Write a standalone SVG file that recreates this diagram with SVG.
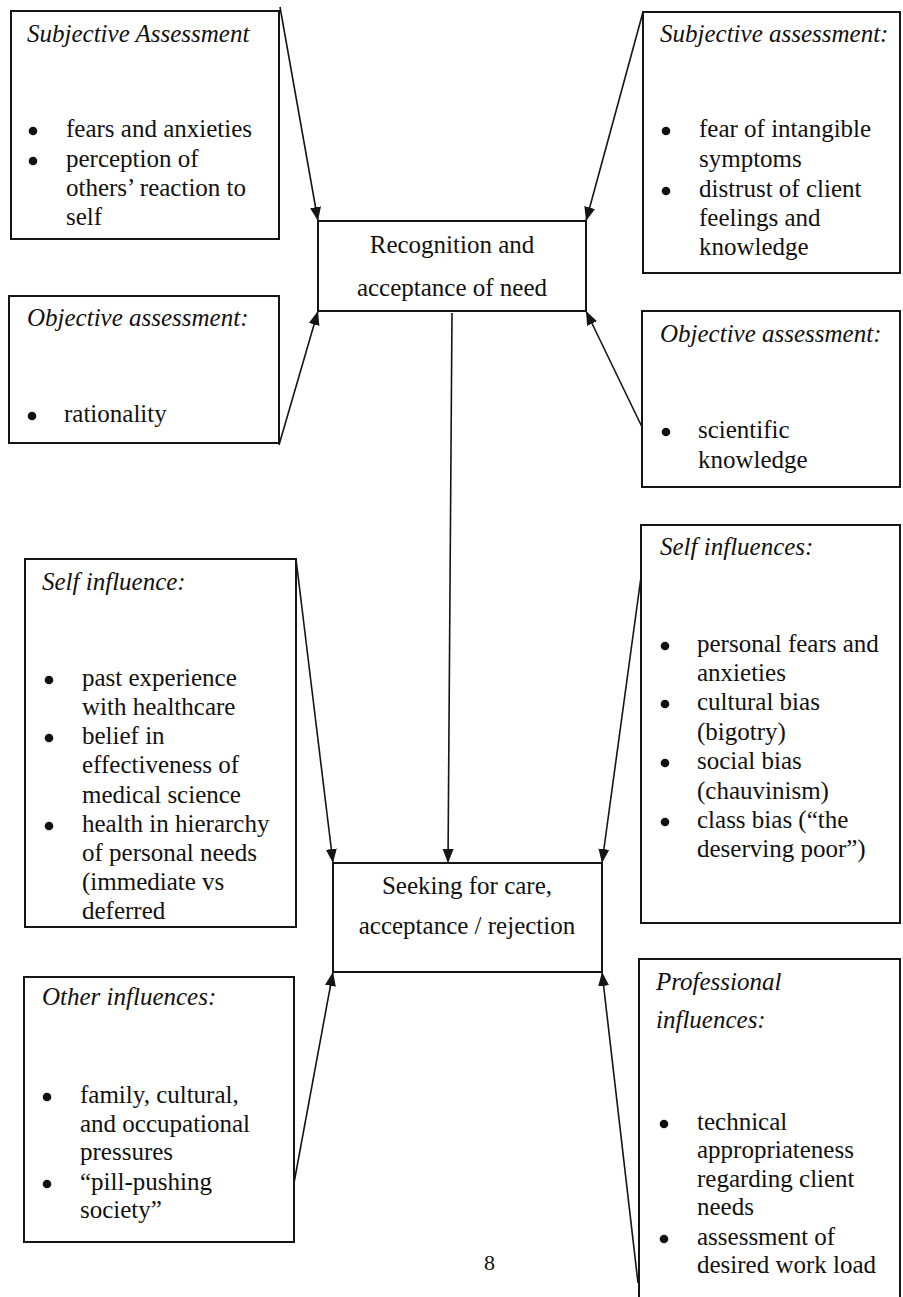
<svg xmlns="http://www.w3.org/2000/svg" width="903" height="1297" viewBox="0 0 903 1297">
<style>
.box{fill:#fff;stroke:#151515;stroke-width:2}
.t{font-family:"Liberation Serif","Times New Roman",serif;font-size:25px;fill:#111}
.i{font-style:italic}
.c{text-anchor:middle}
.b{fill:#111}
.con line{stroke:#151515;stroke-width:1.6;fill:none}
</style>
<defs>
<marker id="ah" markerUnits="userSpaceOnUse" markerWidth="14" markerHeight="14" viewBox="0 0 14 14" refX="14" refY="7" orient="auto">
<path d="M0,1.5 L14,7 L0,12.5 Z" fill="#151515"/>
</marker>
</defs>
<rect width="903" height="1297" fill="#fff"/>

<g id="recognition">
<rect class="box" x="318" y="221" width="268" height="90"/>
<text class="t c" x="452" y="253">Recognition and</text>
<text class="t c" x="452" y="296">acceptance of need</text>
</g>

<g id="seeking">
<rect class="box" x="333" y="863" width="269" height="109"/>
<text class="t c" x="467" y="894">Seeking for care,</text>
<text class="t c" x="467" y="934">acceptance / rejection</text>
</g>

<g id="subjective-left">
<rect class="box" x="11" y="11" width="268" height="228"/>
<text class="t i" x="27" y="42">Subjective Assessment</text>
<circle class="b" cx="33" cy="131" r="4.3"/><text class="t" x="66" y="137">fears and anxieties</text>
<circle class="b" cx="33" cy="161" r="4.3"/><text class="t" x="66" y="167">perception of</text>
<text class="t" x="66" y="196">others’ reaction to</text>
<text class="t" x="66" y="225">self</text>
</g>

<g id="subjective-right">
<rect class="box" x="643" y="12" width="257" height="261"/>
<text class="t i" x="660" y="42">Subjective assessment:</text>
<circle class="b" cx="666" cy="131" r="4.3"/><text class="t" x="699" y="137">fear of intangible</text>
<text class="t" x="699" y="167">symptoms</text>
<circle class="b" cx="666" cy="191" r="4.3"/><text class="t" x="699" y="197">distrust of client</text>
<text class="t" x="699" y="226">feelings and</text>
<text class="t" x="699" y="255">knowledge</text>
</g>

<g id="objective-left">
<rect class="box" x="9" y="296" width="270" height="147"/>
<text class="t i" x="27" y="326">Objective assessment:</text>
<circle class="b" cx="32" cy="416" r="4.3"/><text class="t" x="64" y="422">rationality</text>
</g>

<g id="objective-right">
<rect class="box" x="642" y="311" width="258" height="176"/>
<text class="t i" x="660" y="342">Objective assessment:</text>
<circle class="b" cx="666" cy="432" r="4.3"/><text class="t" x="698" y="438">scientific</text>
<text class="t" x="698" y="468">knowledge</text>
</g>

<g id="self-influence-left">
<rect class="box" x="25" y="559" width="271" height="368"/>
<text class="t i" x="42" y="590">Self influence:</text>
<circle class="b" cx="49" cy="680" r="4.3"/><text class="t" x="82" y="686">past experience</text>
<text class="t" x="82" y="715">with healthcare</text>
<circle class="b" cx="49" cy="738" r="4.3"/><text class="t" x="82" y="744">belief in</text>
<text class="t" x="82" y="773">effectiveness of</text>
<text class="t" x="82" y="803">medical science</text>
<circle class="b" cx="49" cy="826" r="4.3"/><text class="t" x="82" y="832">health in hierarchy</text>
<text class="t" x="82" y="861">of personal needs</text>
<text class="t" x="82" y="890">(immediate vs</text>
<text class="t" x="82" y="919">deferred</text>
</g>

<g id="self-influences-right">
<rect class="box" x="641" y="525" width="259" height="398"/>
<text class="t i" x="660" y="555">Self influences:</text>
<circle class="b" cx="665" cy="646" r="4.3"/><text class="t" x="697" y="652">personal fears and</text>
<text class="t" x="697" y="681">anxieties</text>
<circle class="b" cx="665" cy="704" r="4.3"/><text class="t" x="697" y="710">cultural bias</text>
<text class="t" x="697" y="740">(bigotry)</text>
<circle class="b" cx="665" cy="763" r="4.3"/><text class="t" x="697" y="769">social bias</text>
<text class="t" x="697" y="799">(chauvinism)</text>
<circle class="b" cx="665" cy="822" r="4.3"/><text class="t" x="697" y="828">class bias (“the</text>
<text class="t" x="697" y="857">deserving poor”)</text>
</g>

<g id="other-influences">
<rect class="box" x="24" y="977" width="270" height="265"/>
<text class="t i" x="42" y="1005">Other influences:</text>
<circle class="b" cx="47" cy="1097" r="4.3"/><text class="t" x="80" y="1103">family, cultural,</text>
<text class="t" x="80" y="1132">and occupational</text>
<text class="t" x="80" y="1160">pressures</text>
<circle class="b" cx="47" cy="1184" r="4.3"/><text class="t" x="80" y="1190">“pill-pushing</text>
<text class="t" x="80" y="1218">society”</text>
</g>

<g id="professional-influences">
<rect class="box" x="639" y="959" width="261" height="360"/>
<text class="t i" x="656" y="990">Professional</text>
<text class="t i" x="656" y="1028">influences:</text>
<circle class="b" cx="664" cy="1124" r="4.3"/><text class="t" x="697" y="1130">technical</text>
<text class="t" x="697" y="1158">appropriateness</text>
<text class="t" x="697" y="1187">regarding client</text>
<text class="t" x="697" y="1215">needs</text>
<circle class="b" cx="664" cy="1239" r="4.3"/><text class="t" x="697" y="1245">assessment of</text>
<text class="t" x="697" y="1273">desired work load</text>
</g>

<g id="connectors" class="con">
<line x1="280" y1="7" x2="318" y2="221" marker-end="url(#ah)"/>
<line x1="643" y1="12" x2="586" y2="221" marker-end="url(#ah)"/>
<line x1="279" y1="445" x2="318" y2="311" marker-end="url(#ah)"/>
<line x1="642" y1="427" x2="586" y2="311" marker-end="url(#ah)"/>
<line x1="452" y1="313" x2="448" y2="863" marker-end="url(#ah)"/>
<line x1="296" y1="559" x2="333" y2="863" marker-end="url(#ah)"/>
<line x1="641" y1="577" x2="602" y2="863" marker-end="url(#ah)"/>
<line x1="294" y1="1183" x2="333" y2="972" marker-end="url(#ah)"/>
<line x1="638" y1="1283" x2="602" y2="972" marker-end="url(#ah)"/>
</g>

<text class="t" x="484" y="1270" style="font-size:22px">8</text>
</svg>
